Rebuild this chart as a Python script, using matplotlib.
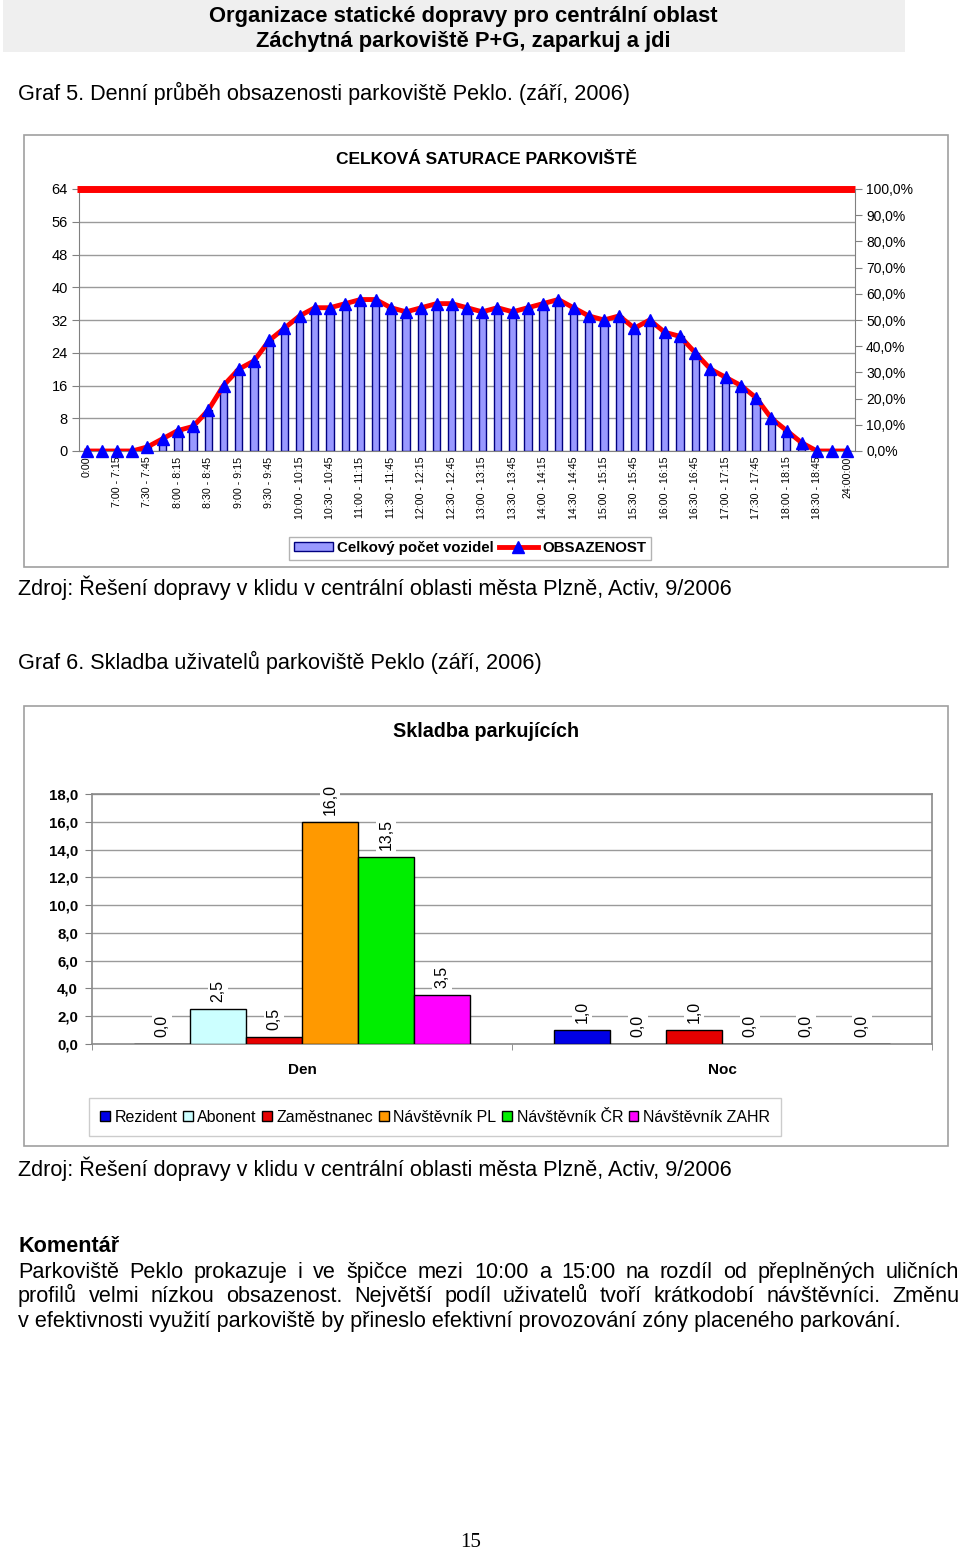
import matplotlib
matplotlib.use("Agg")
import matplotlib.pyplot as plt
from matplotlib.patches import Rectangle, Patch
from matplotlib.lines import Line2D
from matplotlib.ticker import FuncFormatter

plt.rcParams['font.family'] = ['Liberation Sans', 'DejaVu Sans']

# ---------------- data ----------------
time_slots = ["0:00", "0:00 - 7:00", "7:00 - 7:15", "7:15 - 7:30", "7:30 - 7:45", "7:45 - 8:00",
              "8:00 - 8:15", "8:15 - 8:30", "8:30 - 8:45", "8:45 - 9:00", "9:00 - 9:15", "9:15 - 9:30",
              "9:30 - 9:45", "9:45 - 10:00", "10:00 - 10:15", "10:15 - 10:30", "10:30 - 10:45",
              "10:45 - 11:00", "11:00 - 11:15", "11:15 - 11:30", "11:30 - 11:45", "11:45 - 12:00",
              "12:00 - 12:15", "12:15 - 12:30", "12:30 - 12:45", "12:45 - 13:00", "13:00 - 13:15",
              "13:15 - 13:30", "13:30 - 13:45", "13:45 - 14:00", "14:00 - 14:15", "14:15 - 14:30",
              "14:30 - 14:45", "14:45 - 15:00", "15:00 - 15:15", "15:15 - 15:30", "15:30 - 15:45",
              "15:45 - 16:00", "16:00 - 16:15", "16:15 - 16:30", "16:30 - 16:45", "16:45 - 17:00",
              "17:00 - 17:15", "17:15 - 17:30", "17:30 - 17:45", "17:45 - 18:00", "18:00 - 18:15",
              "18:15 - 18:30", "18:30 - 18:45", "18:45 - 24:00", "24:00:00"]
vehicles = [0, 0, 0, 0, 1, 3, 5, 6, 10, 16, 20, 22, 27, 30, 33, 35, 35, 36, 37, 37,
            35, 34, 35, 36, 36, 35, 34, 35, 34, 35, 36, 37, 35, 33, 32, 33, 30, 32, 29, 28,
            24, 20, 18, 16, 13, 8, 5, 2, 0, 0, 0]
capacity = 64
left_ticks = [0, 8, 16, 24, 32, 40, 48, 56, 64]
right_ticks = [0, 10, 20, 30, 40, 50, 60, 70, 80, 90, 100]

periods = ["Den", "Noc"]
user_types = ["Rezident", "Abonent", "Zaměstnanec", "Návštěvník PL", "Návštěvník ČR", "Návštěvník ZAHR"]
den_values = [0.0, 2.5, 0.5, 16.0, 13.5, 3.5]
noc_values = [1.0, 0.0, 1.0, 0.0, 0.0, 0.0]
user_colors = ["#0000E6", "#CCFFFF", "#E60000", "#FF9900", "#00EE00", "#FF00FF"]
y2_ticks = [0, 2, 4, 6, 8, 10, 12, 14, 16, 18]

occupancy = [v / capacity * 100 for v in vehicles]

# ---------------- figure ----------------
W, H = 960, 1550
fig = plt.figure(figsize=(W / 100, H / 100), dpi=100)
BODY = 15.6


def rect(x0, y0, x1, y1):
    return [x0 / W, 1 - y1 / H, (x1 - x0) / W, (y1 - y0) / H]


def ftext(x, y, s, **kw):
    return fig.text(x / W, 1 - y / H, s, **kw)


def frame(x0, y0, x1, y1, **kw):
    fig.patches.append(Rectangle((x0 / W, 1 - y1 / H), (x1 - x0) / W, (y1 - y0) / H,
                                 transform=fig.transFigure, zorder=-10, **kw))


# header band
frame(3, 0, 905, 52, facecolor="#EFEFEF", edgecolor="none")
ftext(463, 22, "Organizace statické dopravy pro centrální oblast", ha="center", va="baseline",
      fontsize=15.8, fontweight="bold")
ftext(463, 47, "Záchytná parkoviště P+G, zaparkuj a jdi", ha="center", va="baseline",
      fontsize=15.8, fontweight="bold")

ftext(18, 100, "Graf 5. Denní průběh obsazenosti parkoviště Peklo. (září, 2006)", ha="left",
      va="baseline", fontsize=BODY)

# chart 1 frame
frame(24, 135, 948, 567, facecolor="white", edgecolor="#A0A0A0", lw=1.2)
ftext(487, 164, "CELKOVÁ SATURACE PARKOVIŠTĚ", ha="center", va="baseline", fontsize=12.5,
      fontweight="bold")

ax1 = fig.add_axes(rect(79, 189, 855, 451))
x = list(range(len(time_slots)))
ax1.bar(x, vehicles, width=0.48, color="#9999FF", edgecolor="#000080", lw=1.0, zorder=2)
ax1.set_xlim(-0.5, len(time_slots) - 0.5)
ax1.set_ylim(0, capacity)
ax1.set_yticks(left_ticks)
ax1.yaxis.grid(True, color="#9A9A9A", lw=1.0, zorder=0)
ax1.set_axisbelow(True)
ax1.set_xticks(x)
ax1.set_xticklabels([t if i % 2 == 0 else "" for i, t in enumerate(time_slots)], rotation=90,
                    fontsize=7.7)
ax1.tick_params(axis="x", length=0, pad=4)
ax1.tick_params(axis="y", labelsize=10.5, length=5, color="#808080", pad=3)
for s in ["top", "right"]:
    ax1.spines[s].set_visible(False)
ax1.spines["left"].set_color("#808080")
ax1.spines["bottom"].set_color("#808080")
ax1.axhline(capacity, xmin=-0.003, xmax=1.0, color="#FF0000", lw=5, zorder=5, clip_on=False,
            solid_capstyle="butt")

ax1b = ax1.twinx()
ax1b.set_ylim(0, 100)
ax1b.plot(x, occupancy, color="#FF0000", lw=3.5, zorder=4, solid_joinstyle="round")
ax1b.plot(x, occupancy, linestyle="none", marker="^", markersize=8, color="#0000FF", zorder=5,
          clip_on=False)
ax1b.set_yticks(right_ticks)
ax1b.yaxis.set_major_formatter(FuncFormatter(lambda v, p: f"{v:.1f}%".replace(".", ",")))
ax1b.tick_params(axis="y", labelsize=10, length=5, color="#808080", pad=3)
for s in ["top", "left", "bottom"]:
    ax1b.spines[s].set_visible(False)
ax1b.spines["right"].set_color("#808080")

leg1_handles = [Patch(facecolor="#9999FF", edgecolor="#000080", lw=1.0),
                Line2D([0], [0], color="#FF0000", lw=3.5, marker="^", markersize=8,
                       markerfacecolor="#0000FF", markeredgecolor="#0000FF")]
leg1 = fig.legend(leg1_handles, ["Celkový počet vozidel", "OBSAZENOST"], loc="center",
                  bbox_to_anchor=(470 / W, 1 - 548 / H), ncol=2, frameon=True, fancybox=False,
                  edgecolor="#A0A0A0", prop={"weight": "bold", "size": 10.8},
                  handlelength=2.6, handleheight=0.6, columnspacing=0.3, handletextpad=0.3,
                  borderpad=0.3)
leg1.get_frame().set_linewidth(1.0)

ftext(18, 595, "Zdroj: Řešení dopravy v klidu v centrální oblasti města Plzně, Activ, 9/2006",
      ha="left", va="baseline", fontsize=BODY)

ftext(18, 669, "Graf 6. Skladba uživatelů parkoviště Peklo (září, 2006)", ha="left",
      va="baseline", fontsize=BODY)

# chart 2 frame
frame(24, 706, 948, 1146, facecolor="white", edgecolor="#A0A0A0", lw=1.2)
ftext(486, 737, "Skladba parkujících", ha="center", va="baseline", fontsize=14.2,
      fontweight="bold")

ax2 = fig.add_axes(rect(92, 794, 932, 1044))
bw = 0.1333
series_vals = [[den_values[i], noc_values[i]] for i in range(len(user_types))]
for i, (name, col) in enumerate(zip(user_types, user_colors)):
    xs = [p + (i - 2.5) * bw for p in range(len(periods))]
    ax2.bar(xs, series_vals[i], width=bw, color=col, edgecolor="black", lw=1.0, zorder=3,
            label=name)
    for xx, vv in zip(xs, series_vals[i]):
        ax2.annotate(f"{vv:.1f}".replace(".", ","), (xx, vv), xytext=(0, 5),
                     textcoords="offset points", rotation=90, ha="center", va="bottom",
                     fontsize=11.5, annotation_clip=False, zorder=4,
                     bbox=dict(boxstyle="square,pad=0.15", facecolor="white", edgecolor="none"))
ax2.set_xlim(-0.5, len(periods) - 0.5)
ax2.set_ylim(0, 18)
ax2.set_yticks(y2_ticks)
ax2.yaxis.set_major_formatter(FuncFormatter(lambda v, p: f"{v:.1f}".replace(".", ",")))
ax2.yaxis.grid(True, color="#9A9A9A", lw=1.0, zorder=0)
ax2.set_axisbelow(True)
ax2.set_xticks(range(len(periods)))
ax2.set_xticklabels(periods, fontsize=11, fontweight="bold")
ax2.set_xticks([-0.5, 0.5, 1.5], minor=True)
ax2.tick_params(axis="x", which="major", length=0, pad=14)
ax2.tick_params(axis="x", which="minor", length=4, color="#808080")
ax2.tick_params(axis="y", labelsize=10.8, length=5, color="#808080", pad=5)
for lab in ax2.get_yticklabels():
    lab.set_fontweight("bold")
for s in ax2.spines.values():
    s.set_color("#8A8A8A")
    s.set_linewidth(1.2)

leg2 = fig.legend(loc="center", bbox_to_anchor=(435 / W, 1 - 1117 / H), ncol=6, frameon=True,
                  fancybox=False, edgecolor="#C0C0C0", fontsize=11.5, handlelength=0.6,
                  handleheight=0.6, handletextpad=0.3, columnspacing=0.35, borderpad=0.7)
leg2.get_frame().set_linewidth(1.0)

ftext(18, 1176, "Zdroj: Řešení dopravy v klidu v centrální oblasti města Plzně, Activ, 9/2006",
      ha="left", va="baseline", fontsize=BODY)

# comment
ftext(18, 1252, "Komentář", ha="left", va="baseline", fontsize=BODY, fontweight="bold")
comment_lines = [
    "Parkoviště Peklo prokazuje i ve špičce mezi 10:00 a 15:00 na rozdíl od přeplněných uličních",
    "profilů velmi nízkou obsazenost. Největší podíl uživatelů tvoří krátkodobí návštěvníci. Změnu",
    "v efektivnosti využití parkoviště by přineslo efektivní provozování zóny placeného parkování.",
]
line_y = [1278, 1302, 1327]
renderer = fig.canvas.get_renderer()
x0, x1 = 18, 959
for k, (ln, yy) in enumerate(zip(comment_lines, line_y)):
    if k == len(comment_lines) - 1:
        ftext(x0, yy, ln, ha="left", va="baseline", fontsize=BODY)
        continue
    words = ln.split(" ")
    texts = [ftext(0, yy, w, ha="left", va="baseline", fontsize=BODY) for w in words]
    widths = [t.get_window_extent(renderer).width for t in texts]
    gap = (x1 - x0 - sum(widths)) / (len(words) - 1)
    cx = x0
    for t, w in zip(texts, widths):
        t.set_x(cx / W)
        cx += w + gap

ftext(471, 1547, "15", ha="center", va="baseline", fontsize=15, family="Liberation Serif")

fig.savefig("out.png", dpi=100)
